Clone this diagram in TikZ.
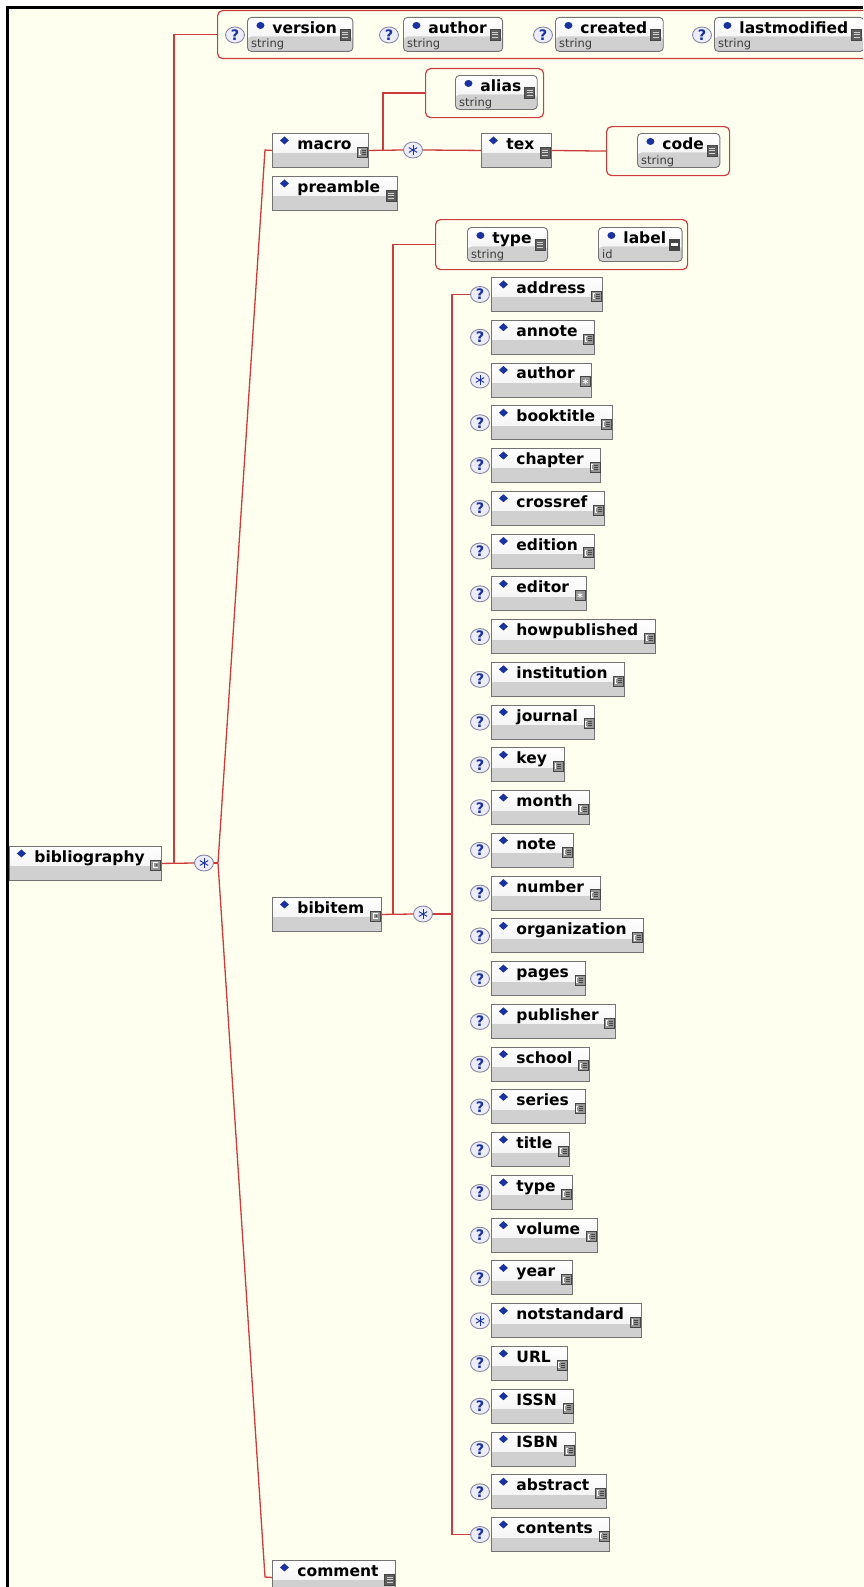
\documentclass[tikz,border=0pt]{standalone}
\usepackage{fontspec}
\setmainfont{DejaVu Sans}
\usetikzlibrary{shapes.geometric}
\definecolor{bgc}{RGB}{255,255,240}
\definecolor{redl}{RGB}{205,60,60}
\definecolor{dblue}{RGB}{25,50,160}
\definecolor{boxb}{RGB}{115,115,115}
\definecolor{boxg}{RGB}{208,208,208}
\definecolor{qfill}{RGB}{236,236,250}
\definecolor{qline}{RGB}{135,135,165}
\definecolor{icg}{RGB}{150,150,150}
\definecolor{icd}{RGB}{70,70,70}
\definecolor{icdk}{RGB}{95,95,95}
\definecolor{subc}{RGB}{60,60,60}
\newcommand\lblfont{\fontsize{15.5}{17}\selectfont\bfseries}
\newcommand\subfont{\fontsize{11.5}{12}\selectfont}
\newcommand\qfont{\fontsize{14.5}{14}\selectfont\bfseries}
% icons
\newcommand\icoM[1]{\begin{scope}[shift={(#1)}]
 \filldraw[fill=icg, draw=icd, line width=0.5pt] (0,0) rectangle (10,10);
 \draw[white, line width=0.8pt] (3.5,2.5) -- (2,2.5) -- (2,7.5) -- (3.5,7.5);
 \draw[icd, line width=0.7pt] (4.5,3) -- (8.5,3) (4.5,5) -- (8.5,5) (4.5,7) -- (8.5,7);
\end{scope}}
\newcommand\icoC[1]{\begin{scope}[shift={(#1)}]
 \filldraw[fill=icg, draw=icd, line width=0.5pt] (0,0) rectangle (10,10);
 \draw[white, line width=0.9pt] (7.5,2.5) -- (3,2.5) -- (3,7.5) -- (7.5,7.5);
 \fill[icd] (6,5) circle (1pt);
\end{scope}}
\newcommand\icoS[1]{\begin{scope}[shift={(#1)}]
 \filldraw[fill=icdk, draw=icd, line width=0.5pt] (0,0) rectangle (10,11);
 \draw[gray!35, line width=0.8pt] (2,3) -- (8,3) (2,5.5) -- (8,5.5) (2,8) -- (8,8);
\end{scope}}
\newcommand\icoA[1]{\begin{scope}[shift={(#1)}]
 \filldraw[fill=icg, draw=icd, line width=0.5pt] (0,0) rectangle (10,10);
 \draw[white, line width=0.7pt] (5,2.2) -- (5,7.8) (2.6,3.6) -- (7.4,6.4) (2.6,6.4) -- (7.4,3.6);
\end{scope}}
\newcommand\icoI[1]{\begin{scope}[shift={(#1)}]
 \filldraw[fill=icd, draw=icd, line width=0.5pt] (0,0) rectangle (10,11);
 \draw[white, line width=2.2pt] (1.5,5.5) -- (8.5,5.5);
\end{scope}}
\tikzset{
 elem/.style={draw=boxb, line width=0.9pt, anchor=north west, inner sep=0pt,
   text height=16pt, text depth=18pt, font=\lblfont, fill=white,
   path picture={
     \shade[top color=white, bottom color=black!7] (path picture bounding box.north west) rectangle ([yshift=14pt]path picture bounding box.south east);
     \fill[boxg] ([yshift=14pt]path picture bounding box.south west) rectangle (path picture bounding box.south east);
     \fill[dblue] ([xshift=12pt,yshift=-7pt]path picture bounding box.north west) +(-4.5pt,0pt) -- +(0pt,4pt) -- +(4.5pt,0pt) -- +(0pt,-4pt) -- cycle;
   }},
 attr/.style={draw=boxb, line width=0.9pt, anchor=north west, inner sep=0pt, rounded corners=4pt,
   text height=16pt, text depth=18pt, font=\lblfont, fill=white,
   path picture={
     \shade[top color=white, bottom color=black!7] (path picture bounding box.north west) rectangle ([yshift=15pt]path picture bounding box.south east);
     \fill[boxg] ([yshift=15pt]path picture bounding box.south west) rectangle (path picture bounding box.south east);
     \fill[dblue] ([xshift=13pt,yshift=-8pt]path picture bounding box.north west) ellipse (4pt and 3.5pt);
   }},
 sub/.style={anchor=base west, font=\subfont, text=subc, inner sep=0pt},
 grp/.style={draw=redl, line width=1.2pt, rounded corners=5pt, fill=bgc, anchor=north west, inner sep=0pt},
 conn/.style={draw=redl, line width=1.3pt},
 marker/.style={ellipse, draw=qline, fill=qfill, line width=0.9pt, minimum width=19pt, minimum height=16pt, inner sep=0pt},
 qm/.style={marker, text=dblue, font=\qfont},
 st/.style={marker, path picture={
   \foreach \a in {90,30,150}{\draw[dblue, line width=0.9pt] (path picture bounding box.center) +(\a:4.8pt) -- +(\a+180:4.8pt);}}},
}
\newcommand\elnode[5]{\node[elem] (#1) at (#2,#3) {\hspace*{25pt}#4\hspace*{17pt}};
 \csname ico#5\endcsname{[xshift=-11.5pt,yshift=-14pt]#1.north east}}
\newcommand\atnode[6]{\node[attr] (#1) at (#2,#3) {\hspace*{25pt}#4\hspace*{16pt}};
 \node[sub] (#1-t) at ([xshift=4pt,yshift=-31pt]#1.north west) {#5};
 \csname ico#6\endcsname{[xshift=-13pt,yshift=-12pt]#1.north east}}
\begin{document}
\begin{tikzpicture}[x=1pt, y=-1pt]
\useasboundingbox (0,0) rectangle (863,1587);
\clip (0,0) rectangle (863,1587);
\fill[white] (0,0) rectangle (863,1587);
\fill[bgc] (7,8) rectangle (863,1587);
\fill[black] (5.5,6.5) rectangle (863,9.5);
\fill[black] (5.5,6.5) rectangle (8.5,1587);

% groups
\node[grp, minimum width=663pt, minimum height=48pt] (topgrp) at (217,10) {};
\node[grp, minimum width=118pt, minimum height=49pt] (aliasgrp) at (425,68) {};
\node[grp, minimum width=123pt, minimum height=49pt] (codegrp) at (606,126) {};
\node[grp, minimum width=252pt, minimum height=50pt] (typegrp) at (435,219) {};

% attributes
\node[qm] (q-version) at (235,35) {?};
\atnode{version}{247}{17}{version}{string}{S}
\node[qm] (q-author) at (389,35) {?};
\atnode{author}{403}{17}{author}{string}{S}
\node[qm] (q-created) at (543,35) {?};
\atnode{created}{555}{17}{created}{string}{S}
\node[qm] (q-lastmod) at (702,35) {?};
\atnode{lastmod}{714}{17}{lastmodified}{string}{S}
\atnode{alias}{455}{75}{alias}{string}{S}
\atnode{code}{637}{133}{code}{string}{S}
\atnode{type}{467}{227}{type}{string}{S}
\atnode{label}{598}{227}{label}{id}{I}

% main elements
\elnode{bib}{9}{846}{bibliography}{C}
\elnode{macro}{272}{133}{macro}{M}
\elnode{preamble}{272}{176}{preamble}{S}
\elnode{bibitem}{272}{897}{bibitem}{C}
\elnode{comment}{272}{1560}{comment}{S}
\elnode{tex}{481}{133}{tex}{S}

\node[st] (s-bib) at (204,863) {};
\node[st] (s-macro) at (413,150) {};
\node[st] (s-bibitem) at (423,914) {};

% bibitem children
\foreach \lab/\mk/\ic [count=\i from 0] in {address/0/M, annote/0/M, author/1/A, booktitle/0/M,
  chapter/0/M, crossref/0/M, edition/0/M, editor/0/A, howpublished/0/M, institution/0/M,
  journal/0/M, key/0/M, month/0/M, note/0/M, number/0/M, organization/0/M, pages/0/M,
  publisher/0/M, school/0/M, series/0/M, title/0/M, type/0/M, volume/0/M, year/0/M,
  notstandard/1/M, URL/0/M, ISSN/0/M, ISBN/0/M, abstract/0/M, contents/0/M}{
  \pgfmathsetmacro\ty{277+42.76*\i}
  \ifnum\mk=1
    \node[st] (m-\i) at (480,\ty+17.5) {};
  \else
    \node[qm] (m-\i) at (480,\ty+17.5) {?};
  \fi
  \elnode{c-\i}{491}{\ty}{\lab}{\ic}
}

% connectors
\coordinate (j-bib) at (174,863);
\coordinate (j-mac) at (383,150);
\coordinate (j-bi) at (393,914);
\coordinate (vb) at (452,914);
\coordinate (bt) at (265,150);
\coordinate (bm) at (218,863);
\coordinate (bb) at (265,1577);

\draw[conn] (bib.east) -- (s-bib.west);
\draw[conn] (j-bib) |- (topgrp.west);
\draw[conn] (s-bib.east) -- (bm);
\draw[conn] (macro.west) -- (bt) -- (bm) -- (bb) -- (comment.west);

\draw[conn] (macro.east) -- (s-macro.west);
\draw[conn] (j-mac) |- (aliasgrp.west);
\draw[conn] (s-macro.east) -- (tex.west);
\draw[conn] (tex.east) -- (codegrp.west);

\draw[conn] (bibitem.east) -- (s-bibitem.west);
\draw[conn] (j-bi) |- (typegrp.west);
\draw[conn] (s-bibitem.east) -- (vb);
\draw[conn] (m-0.west) -| (vb) |- (m-29.west);
\end{tikzpicture}
\end{document}
